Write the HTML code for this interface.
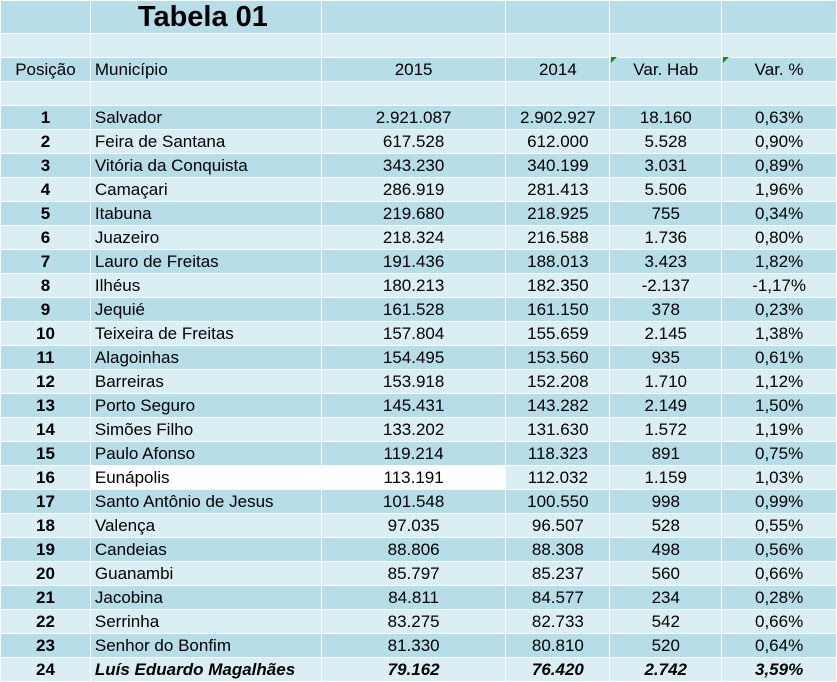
<!DOCTYPE html>
<html><head><meta charset="utf-8"><style>
body{margin:0;width:837px;height:680px;overflow:hidden;background:#fff;font-family:"Liberation Sans",Arial,sans-serif;}
table{border-collapse:collapse;table-layout:fixed;position:absolute;left:0;top:0;}
td{border:1px solid #fff;padding:0;height:23px;font-size:17px;color:#000;text-align:center;white-space:nowrap;overflow:hidden;line-height:23px;}
tr.d td{background:#b7dde8;}
tr.l td{background:#dbeef3;}
td.m{text-align:left;padding-left:4px;}
td.p{font-weight:bold;}
tr.t td{height:32px;}
.w{background:#fff!important;}
tr.last td{font-weight:bold;font-style:italic;}
tr.last td.p{font-style:normal;}
.tri{position:absolute;width:0;height:0;border-top:6px solid #1a8a1a;border-right:6px solid transparent;}
</style></head><body>
<table>
<colgroup><col style="width:90px"><col style="width:231px"><col style="width:185px"><col style="width:104px"><col style="width:112px"><col style="width:115px"></colgroup>
<tr class="d t"><td></td><td style="font-size:29px;font-weight:bold;text-align:left;padding-left:47px;line-height:32px;">Tabela 01</td><td></td><td></td><td></td><td></td></tr>
<tr class="l"><td></td><td></td><td></td><td></td><td></td><td></td></tr>
<tr class="d"><td>Posição</td><td class="m">Município</td><td>2015</td><td>2014</td><td>Var. Hab</td><td>Var. %</td></tr>
<tr class="l"><td></td><td></td><td></td><td></td><td></td><td></td></tr>
<tr class="d"><td class="p">1</td><td class="m">Salvador</td><td>2.921.087</td><td>2.902.927</td><td>18.160</td><td>0,63%</td></tr>
<tr class="l"><td class="p">2</td><td class="m">Feira de Santana</td><td>617.528</td><td>612.000</td><td>5.528</td><td>0,90%</td></tr>
<tr class="d"><td class="p">3</td><td class="m">Vitória da Conquista</td><td>343.230</td><td>340.199</td><td>3.031</td><td>0,89%</td></tr>
<tr class="l"><td class="p">4</td><td class="m">Camaçari</td><td>286.919</td><td>281.413</td><td>5.506</td><td>1,96%</td></tr>
<tr class="d"><td class="p">5</td><td class="m">Itabuna</td><td>219.680</td><td>218.925</td><td>755</td><td>0,34%</td></tr>
<tr class="l"><td class="p">6</td><td class="m">Juazeiro</td><td>218.324</td><td>216.588</td><td>1.736</td><td>0,80%</td></tr>
<tr class="d"><td class="p">7</td><td class="m">Lauro de Freitas</td><td>191.436</td><td>188.013</td><td>3.423</td><td>1,82%</td></tr>
<tr class="l"><td class="p">8</td><td class="m">Ilhéus</td><td>180.213</td><td>182.350</td><td>-2.137</td><td>-1,17%</td></tr>
<tr class="d"><td class="p">9</td><td class="m">Jequié</td><td>161.528</td><td>161.150</td><td>378</td><td>0,23%</td></tr>
<tr class="l"><td class="p">10</td><td class="m">Teixeira de Freitas</td><td>157.804</td><td>155.659</td><td>2.145</td><td>1,38%</td></tr>
<tr class="d"><td class="p">11</td><td class="m">Alagoinhas</td><td>154.495</td><td>153.560</td><td>935</td><td>0,61%</td></tr>
<tr class="l"><td class="p">12</td><td class="m">Barreiras</td><td>153.918</td><td>152.208</td><td>1.710</td><td>1,12%</td></tr>
<tr class="d"><td class="p">13</td><td class="m">Porto Seguro</td><td>145.431</td><td>143.282</td><td>2.149</td><td>1,50%</td></tr>
<tr class="l"><td class="p">14</td><td class="m">Simões Filho</td><td>133.202</td><td>131.630</td><td>1.572</td><td>1,19%</td></tr>
<tr class="d"><td class="p">15</td><td class="m">Paulo Afonso</td><td>119.214</td><td>118.323</td><td>891</td><td>0,75%</td></tr>
<tr class="l"><td class="p">16</td><td class="m w">Eunápolis</td><td class="w">113.191</td><td>112.032</td><td>1.159</td><td>1,03%</td></tr>
<tr class="d"><td class="p">17</td><td class="m">Santo Antônio de Jesus</td><td>101.548</td><td>100.550</td><td>998</td><td>0,99%</td></tr>
<tr class="l"><td class="p">18</td><td class="m">Valença</td><td>97.035</td><td>96.507</td><td>528</td><td>0,55%</td></tr>
<tr class="d"><td class="p">19</td><td class="m">Candeias</td><td>88.806</td><td>88.308</td><td>498</td><td>0,56%</td></tr>
<tr class="l"><td class="p">20</td><td class="m">Guanambi</td><td>85.797</td><td>85.237</td><td>560</td><td>0,66%</td></tr>
<tr class="d"><td class="p">21</td><td class="m">Jacobina</td><td>84.811</td><td>84.577</td><td>234</td><td>0,28%</td></tr>
<tr class="l"><td class="p">22</td><td class="m">Serrinha</td><td>83.275</td><td>82.733</td><td>542</td><td>0,66%</td></tr>
<tr class="d"><td class="p">23</td><td class="m">Senhor do Bonfim</td><td>81.330</td><td>80.810</td><td>520</td><td>0,64%</td></tr>
<tr class="l last"><td class="p">24</td><td class="m">Luís Eduardo Magalhães</td><td>79.162</td><td>76.420</td><td>2.742</td><td>3,59%</td></tr>
</table>
<div class="tri" style="left:611px;top:57px"></div>
<div class="tri" style="left:723px;top:57px"></div>
</body></html>
